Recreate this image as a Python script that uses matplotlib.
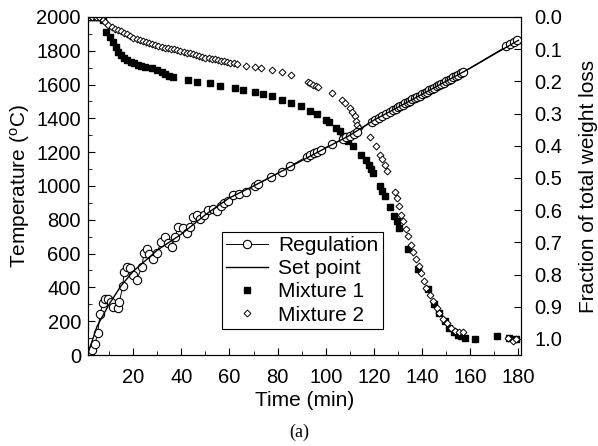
import matplotlib
matplotlib.use("Agg")
import matplotlib.pyplot as plt
from matplotlib.ticker import MultipleLocator

plt.rcParams['font.family'] = ['Liberation Sans', 'DejaVu Sans']

# Regulation (measured furnace temperature, degC)
reg_time = [2.8, 4.2, 5.2, 6.3, 7.4, 8.5, 9.7, 10.9, 11.8, 13.5, 14.3, 15.7, 16.2, 17.3,
            18.7, 19.8, 21.5, 23.6, 24.5, 25.7, 26.7, 28.4, 30.0, 31.6, 33.2, 34.6, 36.0,
            37.4, 38.7, 40.5, 42.2, 43.6, 45.0, 46.3, 47.7, 49.4, 51.2, 53.0, 54.7, 56.3,
            57.7, 59.5, 61.5, 64.0, 67.0, 70.5, 72.0, 77.4, 81.6, 85.3, 92.0, 93.5, 95.0,
            96.5, 98.0, 102.7, 107.0, 108.5, 110.0, 111.5, 113.0, 119.0, 120.5, 122.0,
            123.5, 125.0, 126.5, 128, 129, 130, 131, 132, 133, 134, 135, 136, 137, 138,
            139, 140, 141, 142, 143, 144, 145, 146, 147, 148, 149, 150, 151, 152, 153,
            154, 155, 156, 157, 175.0, 176.5, 178.0, 179.5]
reg_temp = [30, 65, 130, 243, 306, 329, 329, 316, 286, 276, 316, 408, 493, 523,
            513, 473, 444, 523, 603, 625, 598, 566, 605, 670, 696, 665, 641,
            696, 759, 750, 720, 755, 815, 828, 803, 828, 858, 862, 854, 882,
            901, 913, 947, 955, 966, 1000, 1012, 1055, 1085, 1118, 1173, 1183, 1193,
            1203, 1213, 1248, 1275, 1287, 1298, 1310, 1322, 1380, 1392, 1404,
            1416, 1428, 1440, 1450, 1458, 1466, 1473, 1481, 1489, 1496, 1504, 1512, 1519, 1527,
            1535, 1543, 1550, 1558, 1566, 1573, 1581, 1589, 1597, 1604, 1612, 1620, 1627, 1635, 1643,
            1650, 1658, 1666, 1674, 1826, 1838, 1850, 1862]

# Set point curve
set_time = [1, 5, 10, 15, 20, 30, 40, 50, 60, 70, 80, 90, 100, 110, 120, 130, 140, 150, 160, 170, 180]
set_temp = [0, 170, 300, 410, 495, 620, 715, 830, 930, 1000, 1075, 1150, 1225, 1300, 1390,
            1466, 1543, 1620, 1697, 1780, 1862]

# Mixture 1 (fraction of total weight loss)
mix1_time = [1.5, 3.0, 4.5, 6.0, 7.5, 8.8, 10.2, 11.5, 12.9, 13.9, 14.9, 16.2, 17.6, 19.0,
             20.4, 21.8, 23.2, 24.9, 27.7, 29.8, 31.9, 33.2, 35.0, 36.4, 42.9, 46.3, 51.9,
             56.0, 62.2, 65.7, 70.5, 73.9, 77.6, 81.8, 85.5, 89.5, 93.3, 96.4, 100.2, 101.3,
             104.4, 105.7, 107.3, 109.4, 111.3, 114.8, 116.5, 117.9, 118.9, 119.6, 122.6,
             123.4, 124.4, 126.5, 128.3, 129.5, 130.6, 134.1, 138.2, 142.4, 145.1, 147.2,
             149.3, 151.3, 153.4, 154.8, 156.2, 157.9, 162.1, 170.9, 176.2, 178.9]
mix1_frac = [0.0, 0.0, 0.0, 0.0, 0.01, 0.046, 0.062, 0.077, 0.093, 0.108, 0.118, 0.126, 0.134, 0.139,
             0.144, 0.149, 0.152, 0.155, 0.160, 0.165, 0.170, 0.177, 0.183, 0.186, 0.196, 0.201, 0.206,
             0.216, 0.221, 0.227, 0.232, 0.238, 0.247, 0.257, 0.267, 0.278, 0.291, 0.302, 0.320, 0.325,
             0.345, 0.353, 0.370, 0.384, 0.402, 0.428, 0.443, 0.459, 0.472, 0.485, 0.526,
             0.541, 0.557, 0.590, 0.619, 0.634, 0.655, 0.720, 0.784, 0.846, 0.892, 0.918,
             0.944, 0.965, 0.980, 0.988, 0.992, 0.996, 1.001, 0.992, 0.996, 0.999]

# Mixture 2
mix2_time = [1.5, 3.0, 4.5, 6.0, 7.5, 8.4, 9.7, 11.0, 12.3, 13.6, 14.9, 16.2, 17.5, 18.8, 20.1,
             21.4, 22.7, 24.0, 25.3, 26.6, 27.9, 29.2, 30.5, 31.8, 33.1, 34.4, 35.7, 37.0, 38.3,
             39.6, 40.9, 42.2, 43.5, 44.8, 46.1, 47.4, 48.7, 50.0, 51.3, 52.6, 53.9, 55.2, 56.5,
             57.8, 59.1, 60.4, 61.7, 63.0, 66.8, 70.5, 73.0, 77.6, 81.8, 85.5, 92.6, 93.6, 94.7,
             95.8, 96.8, 102.5, 106.7, 107.8, 109.9, 111.0, 112.0, 112.4, 113.0, 113.6, 118.3,
             120.8, 122.3, 123.2, 124.4, 125.6, 128.6, 129.4, 130.3, 131.3, 132.0, 133.1, 134.1,
             135.5, 136.4, 137.5, 138.6, 139.6, 140.6, 141.7, 143.1, 144.4, 146.1, 147.2, 148.6,
             150.2, 152.0, 153.8, 155.4, 156.9, 175.5, 177.6, 179.0]
mix2_frac = [0.0, 0.0, 0.0, 0.0, 0.008, 0.015, 0.026, 0.031, 0.036, 0.041, 0.045, 0.049, 0.054, 0.059, 0.064,
             0.068, 0.071, 0.075, 0.078, 0.081, 0.084, 0.087, 0.090, 0.092, 0.095, 0.097, 0.099, 0.101, 0.104,
             0.106, 0.109, 0.111, 0.113, 0.116, 0.118, 0.120, 0.123, 0.126, 0.129, 0.130, 0.132, 0.134, 0.136,
             0.138, 0.140, 0.142, 0.144, 0.146, 0.153, 0.156, 0.160, 0.166, 0.172, 0.180, 0.201, 0.206, 0.211,
             0.215, 0.218, 0.237, 0.259, 0.267, 0.283, 0.294, 0.309, 0.322, 0.335, 0.345, 0.373,
             0.402, 0.430, 0.442, 0.459, 0.480, 0.545, 0.562, 0.586, 0.614, 0.634, 0.660, 0.681,
             0.707, 0.730, 0.753, 0.774, 0.796, 0.820, 0.841, 0.864, 0.882, 0.903, 0.918, 0.937,
             0.951, 0.965, 0.975, 0.978, 0.980, 0.996, 1.005, 1.001]

fig = plt.figure(figsize=(5.98, 4.46), dpi=100)
ax = fig.add_axes([0.147, 0.204, 0.724, 0.758])
ax2 = ax.twinx()

l_reg, = ax.plot(reg_time, reg_temp, '-o', color='black', lw=0.7, ms=6,
                 mfc='white', mec='black', mew=0.8, label='Regulation')
l_set, = ax.plot(set_time, set_temp, '-', color='black', lw=1.0, label='Set point')
l_m1, = ax2.plot(mix1_time, mix1_frac, 's', color='black', ms=5, ls='none', label='Mixture 1')
l_m2, = ax2.plot(mix2_time, mix2_frac, 'D', ms=3.5, mfc='white', mec='black', mew=0.7,
                 ls='none', label='Mixture 2')
ax.set_zorder(ax2.get_zorder() + 1)
ax.patch.set_visible(False)

ax.set_xlim(1.2, 181)
ax.set_ylim(0, 2000)
ax2.set_ylim(1.05, 0.0)

ax.xaxis.set_major_locator(MultipleLocator(20))
ax.xaxis.set_minor_locator(MultipleLocator(10))
ax.yaxis.set_major_locator(MultipleLocator(200))
ax.yaxis.set_minor_locator(MultipleLocator(100))
ax2.yaxis.set_major_locator(MultipleLocator(0.1))
ax.set_xticks(range(20, 181, 20))

ax.tick_params(which='both', direction='in', labelsize=14.5)
ax.tick_params(axis='x', pad=9)
ax.tick_params(axis='y', pad=5)
ax.tick_params(which='major', length=5)
ax.tick_params(which='minor', length=3)
ax.tick_params(axis='y', which='both', right=False)
ax2.tick_params(direction='in', labelsize=14.5, length=5, pad=10)
ax2.set_yticklabels([f"{v:.1f}" for v in ax2.get_yticks()])

ax.set_xlabel('Time (min)', fontsize=15, labelpad=3)
ax.set_ylabel('Temperature ($\\mathregular{^oC}$)', fontsize=15, labelpad=3)
ax2.set_ylabel('Fraction of total weight loss', fontsize=15, labelpad=12)

leg = ax.legend(handles=[l_reg, l_set, l_m1, l_m2], loc='upper left',
                bbox_to_anchor=(0.371, 0.48), bbox_transform=fig.transFigure,
                fontsize=15, frameon=True, fancybox=False, edgecolor='black',
                framealpha=1, labelspacing=0.2, handlelength=2.0, borderpad=0.2,
                handletextpad=0.5, borderaxespad=0)
leg.get_frame().set_linewidth(0.8)

fig.text(0.5, 0.02, '(a)', ha='center', fontsize=13, family='Liberation Serif')

fig.savefig('out.png', dpi=100)
